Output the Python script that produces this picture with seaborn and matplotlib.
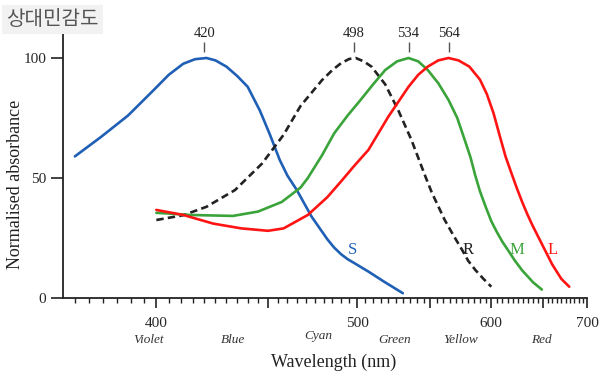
import numpy as np
import pandas as pd
import seaborn as sns
import matplotlib.pyplot as plt
from matplotlib.ticker import FixedLocator, MultipleLocator, FuncFormatter

# curves (wavelength nm, normalised absorbance)
s_wl = [370, 379, 389, 399, 405, 411, 416, 421, 425, 430, 435, 440, 446, 451, 456, 460,
        465, 473, 482, 486, 490, 494, 498, 507, 518, 530]
s_ab = [59, 67, 76, 86.7, 93, 97.6, 99.5, 100, 99, 96.4, 92.5, 88, 78, 68, 57.5, 51,
        45, 34, 24.5, 21, 18.3, 16.2, 14.6, 11, 6.5, 2]

r_wl = [400, 411, 421, 434, 447, 458, 467, 479, 485, 490, 495, 499, 504, 509, 518, 527,
        536, 546, 551, 561, 568, 575, 580, 586, 593, 600]
r_ab = [32.5, 34.5, 38, 45, 56, 68, 80, 90.8, 95, 97.8, 99.6, 100, 98.6, 96.4, 89, 78,
        66, 51, 44, 32.5, 26, 20, 15.5, 11.7, 8, 4.7]

m_wl = [400, 414, 433, 445, 457, 467, 471, 479, 486, 494, 502, 510, 518, 526, 534, 541,
        548, 556, 564, 571, 577, 582, 586, 590, 595, 600, 605, 610, 616, 622, 629, 640, 649]
m_ab = [35.5, 34.6, 34.2, 36, 40, 46, 50, 59.5, 68.6, 76, 82.5, 89, 95, 98.6, 100, 98.6,
        95, 89.5, 82.5, 75, 66, 58.5, 51, 44.5, 38, 32, 27.5, 23.5, 19.5, 15.5, 11.5, 6.5, 3.5]

l_wl = [400, 411, 424, 437, 450, 458, 471, 482, 490, 498, 507, 520, 534, 541, 548, 556,
        564, 572, 581, 590, 596, 602, 608, 613, 619, 624, 629, 634, 639, 649, 660, 670, 679]
l_ab = [36.7, 34.6, 31, 29, 28, 29, 34.6, 42, 48.5, 55, 61.7, 75.5, 88, 93, 96.4, 99,
        100, 99, 96.4, 91, 85, 77, 67, 59, 51.5, 45.5, 40, 35, 30.5, 22.5, 14, 8, 4.7]

peaks = [420, 498, 534, 564]
color_names = ["Violet", "Blue", "Cyan", "Green", "Yellow", "Red"]
color_pos = [397, 433, 477, 524, 574, 648]
curve_names = ["S", "R", "M", "L"]
curve_label_pos = [497, 580, 624, 660]
curve_colors = ["#1f5fb5", "#222222", "#3aa43a", "#ff1414"]

sns.set_theme(style="ticks")
plt.rcParams["font.family"] = ["Liberation Serif", "DejaVu Serif"]

df = pd.concat([
    pd.DataFrame({"wl": s_wl, "ab": s_ab, "cone": "S"}),
    pd.DataFrame({"wl": r_wl, "ab": r_ab, "cone": "R"}),
    pd.DataFrame({"wl": m_wl, "ab": m_ab, "cone": "M"}),
    pd.DataFrame({"wl": l_wl, "ab": l_ab, "cone": "L"}),
])

fig = plt.figure(figsize=(6.02, 3.78), dpi=100)
ax = fig.add_axes([63/602, 1-298/378, (587-63)/602, (298-22)/378])

# wavenumber-like axis: linear in 1/lambda
ax.set_xscale("function", functions=(lambda x: -1000.0/np.asarray(x), lambda y: -1000.0/np.asarray(y)))

for name, col in zip(curve_names, curve_colors):
    ls = (0, (2.8, 1.6)) if name == "R" else "-"
    sns.lineplot(data=df[df.cone == name], x="wl", y="ab", color=col, lw=1.9,
                 linestyle=ls, ax=ax, legend=False)

ax.set_xlim(366, 700)
ax.set_ylim(0, 115)

ax.xaxis.set_major_locator(FixedLocator([400, 450, 500, 550, 600, 650, 700]))
ax.xaxis.set_minor_locator(MultipleLocator(5))
ax.xaxis.set_major_formatter(FuncFormatter(lambda v, p: "%d" % v if v % 100 == 0 else ""))
ax.set_yticks([0, 50, 100])
ax.tick_params(axis="x", which="major", length=7, width=1.2, labelsize=11, color="#222", pad=6.5)
ax.tick_params(axis="x", which="minor", length=3.6, width=1.0, color="#222")
ax.tick_params(axis="y", length=9, width=1.2, labelsize=11, color="#222", pad=3)
for sp in ["top", "right"]:
    ax.spines[sp].set_visible(False)
for sp in ["left", "bottom"]:
    ax.spines[sp].set_linewidth(1.3)
    ax.spines[sp].set_color("#222")

ax.set_xlabel("Wavelength (nm)", fontsize=13, color="#222")
ax.set_ylabel("Normalised absorbance", fontsize=13, color="#222")
ax.xaxis.set_label_coords(0.517, -0.2)
ax.yaxis.set_label_coords(-0.075, 0.41)

# colour names under the axis
for name, wl in zip(color_names, color_pos):
    dy = -27.5 if name == "Cyan" else -30
    ax.annotate(name, xy=(wl, 0), xycoords=("data", "axes fraction"), xytext=(0, dy),
                textcoords="offset points", ha="center", va="center", fontsize=9.5,
                style="italic", color="#333")

# peak markers
for p in peaks:
    ax.vlines(p, 102.6, 106.6, color="#555", lw=1.0)
    ax.text(p, 107.4, str(p), ha="center", va="bottom", fontsize=10.5, color="#222")

# curve labels
for name, wl, col in zip(curve_names, curve_label_pos, curve_colors):
    ax.text(wl, 20, name, ha="center", va="center", fontsize=12, color=col)

fig.text(0.01, 0.975, "상대민감도", ha="left", va="top", fontsize=14.5, color="#555",
         family=["Noto Sans CJK KR", "DejaVu Sans"],
         bbox=dict(boxstyle="square,pad=0.2", fc="#f2f2f2", ec="none"))

fig.savefig("out.png", dpi=100)
